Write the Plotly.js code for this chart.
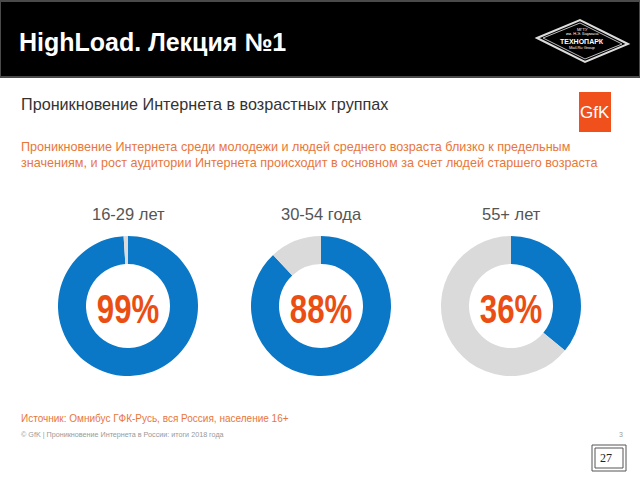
<!DOCTYPE html>
<html>
<head>
<meta charset="utf-8">
<script src="https://cdn.plot.ly/plotly-3.0.1.min.js"></script>
<style>
html,body{margin:0;padding:0;background:#fff;}
#chart{width:640px;height:480px;}
</style>
</head>
<body>
<div id="chart"></div>
<script>
// Data
const groups = ['16-29 лет', '30-54 года', '55+ лет'];
const penetration = [99, 88, 36];
const sliceLabels = ['Пользователи', 'Не пользователи'];

const W = 640, H = 480;
const px = x => x / W;
const py = y => 1 - y / H;

const centersX = [128, 321, 511];
const cy = 306, R = 70;

const traces = groups.map((g, i) => ({
  type: 'pie',
  values: [penetration[i], 100 - penetration[i]],
  labels: sliceLabels,
  hole: 0.6,
  sort: false,
  direction: 'clockwise',
  rotation: 0,
  textinfo: 'none',
  hoverinfo: 'none',
  showlegend: false,
  marker: {colors: ['#0a78c6', '#dadada'], line: {width: 0}},
  domain: {x: [px(centersX[i] - R), px(centersX[i] + R)], y: [py(cy + R), py(cy - R)]}
}));

const ann = [];
function txt(text, x, y, size, color, opts) {
  ann.push(Object.assign({
    text: text, x: px(x), y: py(y), xref: 'paper', yref: 'paper',
    showarrow: false, xanchor: 'left', yanchor: 'middle',
    font: {family: 'Liberation Sans, Arial, sans-serif', size: size, color: color}
  }, opts || {}));
}
txt('<b>HighLoad. Лекция №1</b>', 17, 42, 25, '#ffffff');
txt('Проникновение Интернета в возрастных группах', 19, 104, 16.2, '#333333');
txt('Проникновение Интернета среди молодежи и людей среднего возраста близко к предельным', 19, 147, 12.6, '#e8763a');
txt('значениям, и рост аудитории Интернета происходит в основном за счет людей старшего возраста', 19, 163, 12.6, '#e8763a');
groups.forEach((g, i) => {
  txt(g, centersX[i], 214, 16.5, '#555555', {xanchor: 'center'});
  txt('<b>' + penetration[i] + '%</b>', centersX[i], 309, 40, '#ea4e12',
      {xanchor: 'center', name: 'pct', font: {family: 'Liberation Sans, Arial, sans-serif', size: 40, color: '#ea4e12'}});
});
txt('Источник: Омнибус ГФК-Русь, вся Россия, население 16+', 19, 418, 10, '#e8763a');
txt('© GfK | Проникновение Интернета в России: итоги 2018 года', 19, 434, 7.2, '#999999');
txt('3', 617, 434, 7, '#999999');
txt('27', 614, 458, 12, '#222222', {xanchor: 'right', font: {family: 'Liberation Serif, serif', size: 12, color: '#222'}});
// GfK logo text
txt('GfK', 595, 112, 17, '#ffffff', {xanchor: 'center', font: {family: 'Liberation Sans, Arial, sans-serif', size: 17, color: '#fff'}});
// Technopark logo text
txt('МГТУ', 582, 29, 4, '#ffffff', {xanchor: 'center'});
txt('им. Н.Э. Баумана', 582, 34, 4, '#ffffff', {xanchor: 'center'});
txt('<b>ТЕХНОПАРК</b>', 582, 41, 7, '#ffffff', {xanchor: 'center'});
txt('Mail.Ru Group', 582, 48, 4, '#ffffff', {xanchor: 'center'});

const shapes = [
  {type: 'rect', xref: 'paper', yref: 'paper', x0: 0, x1: 1, y0: py(77), y1: py(1),
   fillcolor: '#000000', line: {color: '#4a4a4a', width: 2}, layer: 'below'},
  // Technopark diamond
  {type: 'path', xref: 'paper', yref: 'paper',
   path: 'M ' + px(537) + ' ' + py(38) + ' L ' + px(580) + ' ' + py(20) + ' L ' + px(628) + ' ' + py(44) + ' L ' + px(585) + ' ' + py(62) + ' Z',
   fillcolor: 'rgba(0,0,0,0)', line: {color: '#dddddd', width: 2}},
  {type: 'path', xref: 'paper', yref: 'paper',
   path: 'M ' + px(543) + ' ' + py(38) + ' L ' + px(580) + ' ' + py(23) + ' L ' + px(622) + ' ' + py(44) + ' L ' + px(585) + ' ' + py(59) + ' Z',
   fillcolor: 'rgba(0,0,0,0)', line: {color: '#bbbbbb', width: 1}},
  // GfK logo square
  {type: 'rect', xref: 'paper', yref: 'paper', x0: px(579), x1: px(611), y0: py(132), y1: py(92),
   fillcolor: '#f0501c', line: {width: 0}},
  // page number box
  {type: 'rect', xref: 'paper', yref: 'paper', x0: px(592), x1: px(626), y0: py(471), y1: py(445),
   fillcolor: 'rgba(0,0,0,0)', line: {color: '#555555', width: 1}},
  {type: 'rect', xref: 'paper', yref: 'paper', x0: px(595), x1: px(623), y0: py(468), y1: py(448),
   fillcolor: 'rgba(0,0,0,0)', line: {color: '#555555', width: 1}}
];

Plotly.newPlot('chart', traces, {
  width: W, height: H,
  margin: {l: 0, r: 0, t: 0, b: 0},
  paper_bgcolor: '#ffffff',
  showlegend: false,
  annotations: ann,
  shapes: shapes
}, {displayModeBar: false, staticPlot: true}).then(gd => {
  // condense the big percentage figures horizontally, like the narrow bold face in the original
  gd.querySelectorAll('.annotation-text').forEach(t => {
    if (/%$/.test(t.textContent)) {
      t.style.transformBox = 'fill-box';
      t.style.transformOrigin = 'center';
      t.style.transform = 'scaleX(0.78)';
      t.style.fontStretch = 'condensed';
    }
  });
});
</script>
</body>
</html>
